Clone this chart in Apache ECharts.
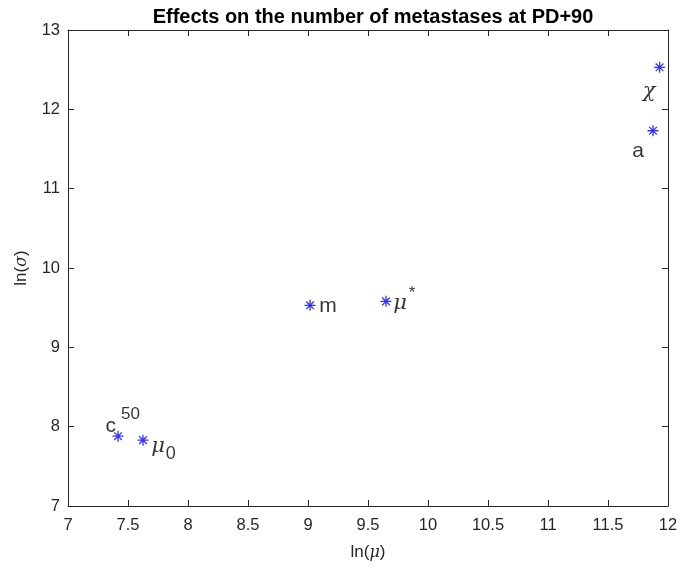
<!DOCTYPE html>
<html><head><meta charset="utf-8">
<script src="https://cdn.jsdelivr.net/npm/echarts@6/dist/echarts.min.js"></script>
<style>html,body{margin:0;padding:0;background:#fff}#c{width:682px;height:570px}</style>
</head><body><div id="c"></div>
<script>
var pointNames = ['c50', 'mu0', 'm', 'muStar', 'a', 'chi'];
var xValues = [7.417, 7.625, 9.017, 9.65, 11.875, 11.93];
var yValues = [7.88, 7.83, 9.53, 9.58, 11.73, 12.53];
var xTicks = [7, 7.5, 8, 8.5, 9, 9.5, 10, 10.5, 11, 11.5, 12];
var yTicks = [7, 8, 9, 10, 11, 12, 13];

var labelTexts = {
  c50: '{n|c}{sup|50}',
  mu0: '{g|\u03bc}{sub|0}',
  m: '{n|m}',
  muStar: '{g|\u03bc}{sup2|*}',
  a: '{n|a}',
  chi: '{g|\u03c7}'
};
var labelPos = {
  c50: {position: 'left', offset: [33, -10]},
  mu0: {position: 'right', offset: [-3, 6]},
  m: {position: 'right', offset: [-2, 1]},
  muStar: {position: 'right', offset: [-4, 2]},
  a: {position: 'left', offset: [2, 20]},
  chi: {position: 'left', offset: [7, 24]}
};
var rich = {
  n: {fontFamily: 'Liberation Sans, Arial', fontSize: 21, color: '#000'},
  g: {fontFamily: 'DejaVu Serif', fontStyle: 'italic', fontSize: 21, color: '#000'},
  sup: {fontFamily: 'Liberation Sans, Arial', fontSize: 17, color: '#000', padding: [0,0,24,5]},
  sup2: {fontFamily: 'Liberation Sans, Arial', fontSize: 17, color: '#000', padding: [0,0,20,2]},
  sub: {fontFamily: 'Liberation Sans, Arial', fontSize: 18, color: '#000', padding: [16,0,0,1]}
};
var data = pointNames.map(function(n, i){
  var lp = labelPos[n];
  return {value: [xValues[i], yValues[i]], label: {show: true, color: '#000', position: lp.position, offset: lp.offset, formatter: labelTexts[n], rich: rich}};
});
var star = 'path://M0,-10L0,10M-10,0L10,0M-7,-7L7,7M-7,7L7,-7';
var axisCol = '#262626';
var chart = echarts.init(document.getElementById('c'));
chart.setOption({
  animation: false,
  backgroundColor: '#fff',
  title: {text: 'Effects on the number of metastases at PD+90', left: 368, top: 2, textAlign: 'center',
    textStyle: {fontFamily: 'Liberation Sans, Arial', fontSize: 20, fontWeight: 'bold', color: '#000'}},
  grid: {left: 68, right: 14, top: 30, bottom: 64},
  xAxis: [{
    type: 'value', min: 7, max: 12, interval: 0.5, position: 'bottom',
    name: '{t|ln(}{g|\u03bc}{t|)}', nameLocation: 'middle', nameGap: 38,
    nameTextStyle: {rich: {t: {fontFamily: 'Liberation Sans, Arial', fontSize: 17, color: axisCol}, g: {fontFamily: 'DejaVu Serif', fontStyle: 'italic', fontSize: 16, color: axisCol}}},
    axisLine: {lineStyle: {color: axisCol, width: 1}},
    axisTick: {inside: true, length: 6, lineStyle: {color: axisCol}},
    axisLabel: {fontFamily: 'Liberation Sans, Arial', fontSize: 16.5, color: axisCol, margin: 11,
      formatter: function(v){ return xTicks.indexOf(v) >= 0 ? String(v) : ''; }},
    splitLine: {show: false}
  }, {
    type: 'value', min: 7, max: 12, interval: 0.5, position: 'top',
    axisLine: {lineStyle: {color: axisCol, width: 1}},
    axisTick: {inside: true, length: 6, lineStyle: {color: axisCol}},
    axisLabel: {show: false}, splitLine: {show: false}
  }],
  yAxis: [{
    type: 'value', min: 7, max: 13, interval: 1, position: 'left',
    name: '{t|ln(}{g|\u03c3}{t|)}', nameLocation: 'middle', nameGap: 38, nameRotate: 90,
    nameTextStyle: {rich: {t: {fontFamily: 'Liberation Sans, Arial', fontSize: 17, color: axisCol}, g: {fontFamily: 'DejaVu Serif', fontStyle: 'italic', fontSize: 16, color: axisCol}}},
    axisLine: {lineStyle: {color: axisCol, width: 1}},
    axisTick: {inside: true, length: 6, lineStyle: {color: axisCol}},
    axisLabel: {fontFamily: 'Liberation Sans, Arial', fontSize: 16.5, color: axisCol, margin: 8,
      formatter: function(v){ return yTicks.indexOf(v) >= 0 ? String(v) : ''; }},
    splitLine: {show: false}
  }, {
    type: 'value', min: 7, max: 13, interval: 1, position: 'right',
    axisLine: {lineStyle: {color: axisCol, width: 1}},
    axisTick: {inside: true, length: 6, lineStyle: {color: axisCol}},
    axisLabel: {show: false}, splitLine: {show: false}
  }],
  series: [{
    type: 'scatter', xAxisIndex: 0, yAxisIndex: 0,
    symbol: star, symbolSize: 11,
    itemStyle: {color: 'rgba(0,0,0,0)', borderColor: '#0000ff', borderWidth: 1.3},
    data: data
  }]
});
</script></body></html>
